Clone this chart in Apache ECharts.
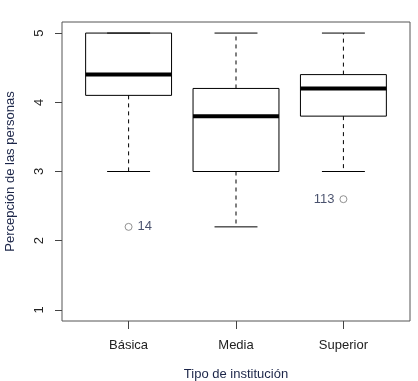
<!DOCTYPE html>
<html>
<head>
<meta charset="utf-8">
<script src="https://cdn.jsdelivr.net/npm/echarts@6/dist/echarts.min.js"></script>
<style>html,body{margin:0;padding:0;background:#fff;}#c{width:418px;height:381px;}</style>
</head>
<body>
<div id="c"></div>
<script>
const categories = ['Básica', 'Media', 'Superior'];
const whiskerLow = [3, 2.2, 3];
const q1 = [4.1, 3, 3.8];
const medians = [4.4, 3.8, 4.2];
const q3 = [5, 4.2, 4.4];
const whiskerHigh = [5, 5, 5];
const outlierGroup = [1, 3];
const outlierValues = [2.2, 2.6];
const outlierLabels = ['14', '113'];
const outlierLabelSide = ['right', 'left'];
const yTicks = [1, 2, 3, 4, 5];
const xTitle = 'Tipo de institución';
const yTitle = 'Percepción de las personas';

const FONT = 'Liberation Sans, Arial, sans-serif';
const TITLE_COLOR = '#1b2548';

const boxData = categories.map((c, i) => [i + 1, whiskerLow[i], q1[i], medians[i], q3[i], whiskerHigh[i]]);

function renderBox(params, api) {
  const x = api.value(0);
  const lo = api.value(1), b1 = api.value(2), md = api.value(3), b3 = api.value(4), hi = api.value(5);
  const halfBox = 0.4, halfCap = 0.2;
  const P = (xx, yy) => api.coord([xx, yy]);
  const dash = { stroke: '#000', lineWidth: 1, lineDash: [4, 4] };
  const solid = { stroke: '#000', lineWidth: 1 };
  const children = [];
  if (hi > b3) {
    const a = P(x, b3), b = P(x, hi);
    children.push({ type: 'line', shape: { x1: a[0], y1: a[1], x2: b[0], y2: b[1] }, style: dash });
  }
  if (lo < b1) {
    const a = P(x, b1), b = P(x, lo);
    children.push({ type: 'line', shape: { x1: a[0], y1: a[1], x2: b[0], y2: b[1] }, style: dash });
  }
  [lo, hi].forEach(v => {
    const a = P(x - halfCap, v), b = P(x + halfCap, v);
    children.push({ type: 'line', shape: { x1: a[0], y1: a[1], x2: b[0], y2: b[1] }, style: solid });
  });
  const tl = P(x - halfBox, b3), br = P(x + halfBox, b1);
  children.push({ type: 'rect', shape: { x: tl[0], y: tl[1], width: br[0] - tl[0], height: br[1] - tl[1] }, style: { fill: 'none', stroke: '#000', lineWidth: 1 } });
  const m1 = P(x - halfBox, md), m2 = P(x + halfBox, md);
  children.push({ type: 'line', shape: { x1: m1[0], y1: m1[1], x2: m2[0], y2: m2[1] }, style: { stroke: '#000', lineWidth: 4 } });
  return { type: 'group', children };
}

const chart = echarts.init(document.getElementById('c'), null, { renderer: 'canvas' });
chart.setOption({
  animation: false,
  backgroundColor: '#fff',
  textStyle: { fontFamily: FONT },
  grid: { left: 62, top: 22, right: 8, bottom: 60, containLabel: false, outerBoundsMode: 'none',
    show: true, borderColor: '#555', borderWidth: 1, backgroundColor: 'transparent' },
  xAxis: {
    type: 'value', min: 0.38, max: 3.62,
    splitLine: { show: false },
    axisLine: { show: false },
    axisTick: { show: true, length: 8, lineStyle: { color: '#444' }, customValues: [1, 2, 3] },
    axisLabel: { show: true, customValues: [1, 2, 3], margin: 18, fontSize: 13, color: '#222', fontFamily: FONT,
      formatter: v => categories[Math.round(v) - 1] || '' },
    name: xTitle, nameLocation: 'middle', nameGap: 47,
    nameTextStyle: { fontSize: 13, color: TITLE_COLOR, fontFamily: FONT }
  },
  yAxis: {
    type: 'value', min: 0.84, max: 5.16,
    splitLine: { show: false },
    axisLine: { show: false },
    axisTick: { show: true, length: 7, lineStyle: { color: '#444' }, customValues: yTicks },
    axisLabel: { show: true, customValues: yTicks, rotate: 90, margin: 16, fontSize: 13, color: '#222', fontFamily: FONT },
    name: yTitle, nameLocation: 'middle', nameGap: 45,
    nameTextStyle: { fontSize: 13, color: TITLE_COLOR, fontFamily: FONT }
  },
  series: [
    {
      type: 'custom',
      renderItem: renderBox,
      encode: { x: 0, y: [1, 2, 3, 4, 5] },
      data: boxData,
      silent: true
    },
    {
      type: 'scatter',
      symbol: 'circle',
      symbolSize: 7,
      itemStyle: { color: '#fff', borderColor: '#777', borderWidth: 1 },
      data: outlierGroup.map((g, i) => ({
        value: [g, outlierValues[i]],
        name: outlierLabels[i],
        label: { show: true, position: outlierLabelSide[i], formatter: '{b}', distance: 5, fontSize: 13, color: TITLE_COLOR, fontFamily: FONT }
      })),
      silent: true
    }
  ]
});
</script>
</body>
</html>
